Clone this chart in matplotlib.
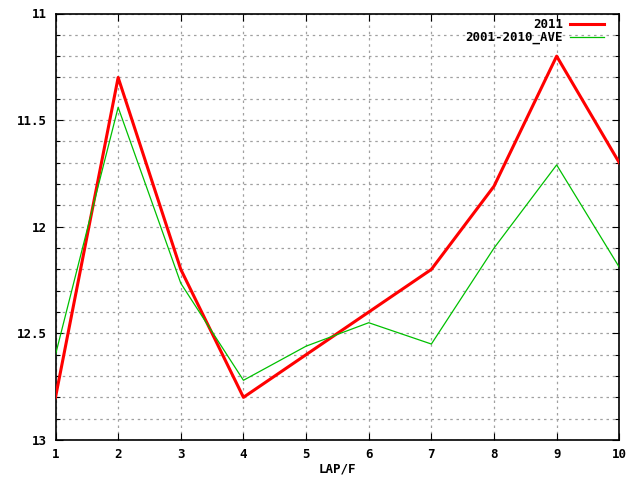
import matplotlib
matplotlib.use("Agg")
import matplotlib.pyplot as plt
from matplotlib.ticker import MultipleLocator

laps = [1, 2, 3, 4, 5, 6, 7, 8, 9, 10]
y2011 = [12.8, 11.3, 12.2, 12.8, 12.6, 12.4, 12.2, 11.81, 11.2, 11.7]
yave = [12.6, 11.44, 12.265, 12.72, 12.56, 12.45, 12.55, 12.1, 11.71, 12.19]
ytick_vals = [11, 11.5, 12, 12.5, 13]
ytick_labels = ["11", "11.5", "12", "12.5", "13"]

font = dict(family="DejaVu Sans Mono", weight="bold", size=9)

fig = plt.figure(figsize=(6.4, 4.8), dpi=100)
ax = fig.add_axes([55.5/640, 1-440/480, (619.3-55.5)/640, (440-13.5)/480])

ax.plot(laps, y2011, color="#ff0000", lw=2.2, label="2011", zorder=3)
ax.plot(laps, yave, color="#00c000", lw=0.9, label="2001-2010_AVE", zorder=3)

ax.set_xlim(1, 10)
ax.set_ylim(13, 11)
ax.set_xticks(laps)
ax.set_xticklabels([str(v) for v in laps], fontdict=font)
ax.set_yticks(ytick_vals)
ax.set_yticklabels(ytick_labels, fontdict=font)
ax.yaxis.set_minor_locator(MultipleLocator(0.1))

ax.grid(True, which="both", color="#a0a0a0", linestyle=(0, (2, 3)), lw=0.9)
ax.tick_params(which="both", direction="in", top=True, right=True, length=5, width=0.8, pad=6)
ax.tick_params(which="minor", length=3)
for s in ax.spines.values():
    s.set_linewidth(1.2)

ax.set_xlabel("LAP/F", fontdict=font, labelpad=1)

leg = ax.legend(loc="upper right", frameon=False, markerfirst=False,
                prop=dict(family="DejaVu Sans Mono", weight="bold", size=9),
                handlelength=2.7, borderaxespad=0.0, labelspacing=0.0, handletextpad=0.6,
                bbox_to_anchor=(609/640, 1-13/480), bbox_transform=fig.transFigure)

fig.savefig("out.png", dpi=100)
